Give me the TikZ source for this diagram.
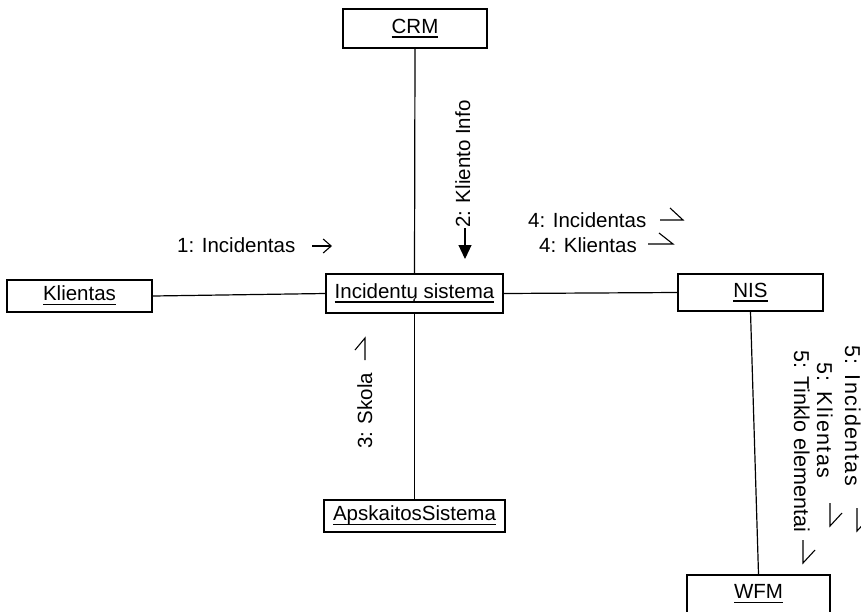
\documentclass[tikz,border=0pt]{standalone}
\usepackage{fontspec}
\setmainfont{Liberation Sans}
\usetikzlibrary{arrows.meta}
% underlined object name, rule at a fixed depth below the baseline
\newcommand\objname[1]{\setbox0\hbox{#1}\rlap{\rule[-4.5pt]{\wd0}{1.3pt}}\box0}
\tikzset{
  obj/.style={draw, line width=1.7pt, inner sep=0pt, text height=15pt, text depth=6pt,
              font=\fontsize{20.5}{24}\selectfont},
  lbl/.style={inner sep=0pt, font=\fontsize{20.5}{24}\selectfont},
  vlbl/.style={inner sep=0pt, rotate=-90, anchor=base west, font=\fontsize{21.5}{25}\selectfont},
  link/.style={line width=1.2pt},
  msg/.style={line width=1.1pt}
}
\begin{document}
\begin{tikzpicture}[x=1pt, y=-1pt]
\useasboundingbox (0,0) rectangle (861,611);
\clip (0,0) rectangle (861,611);

% objects
\node[obj, minimum width=144pt, minimum height=39pt] (crm) at (415,28.5) {\objname{CRM}};
\node[obj, minimum width=145pt, minimum height=32pt] (kl)  at (79.5,296) {\objname{Klientas}};
\node[obj, minimum width=177pt, minimum height=39pt] (inc) at (414.5,293.5) {\objname{Incidentų sistema}};
\node[obj, minimum width=145pt, minimum height=37pt] (nis) at (750.5,292.5) {\objname{NIS}};
\node[obj, minimum width=181pt, minimum height=32pt] (aps) at (414.5,516) {\objname{ApskaitosSistema}};
\node[obj, minimum width=143pt, minimum height=38pt] (wfm) at (758.5,594) {\objname{WFM}};

% links
\draw[link] (crm.south) -- (inc.north);
\draw[link] (kl.east) -- (inc.west);
\draw[link] (inc.east) -- (nis.west);
\draw[link] (inc.south) -- (aps.north);
\draw[link] (nis.south) -- (wfm.north);

% messages
\node[lbl, anchor=base west] (m1) at (177,252) {1: Incidentas};
\draw[msg, -{Straight Barb[length=8pt,width=14pt]}] (312,246) -- (332,246);

\node[lbl, rotate=90, anchor=base west] (m2) at (470,228) {2: Kliento Info};
\draw[msg, -{Triangle[length=14pt,width=13pt]}] (465,228) -- (465,259);

\node[lbl, rotate=90, anchor=base west] (m3) at (372,449) {3: Skola};
\draw[msg] (365,360) -- (365,338) -- (355,350);

\node[lbl, anchor=base west] (m4a) at (528,227) {4: Incidentas};
\draw[msg] (660,220) -- (683,220) -- (670,208);
\node[lbl, anchor=base west] (m4b) at (539,252) {4: Klientas};
\draw[msg] (648,244) -- (673,244) -- (659,233);

\node[vlbl] (m5c) at (794,350) {5: Tinklo elementai};
\draw[msg] (803,540) -- (803,563) -- (815,550);
\node[vlbl] (m5b) at (817,362) {\addfontfeatures{LetterSpace=7}5: Klientas};
\draw[msg] (830,503) -- (830,526) -- (842,513);
\node[vlbl] (m5a) at (845,345) {\addfontfeatures{LetterSpace=7}5: Incidentas};
\draw[msg] (857,508) -- (857,531) -- (869,518);
\end{tikzpicture}
\end{document}
